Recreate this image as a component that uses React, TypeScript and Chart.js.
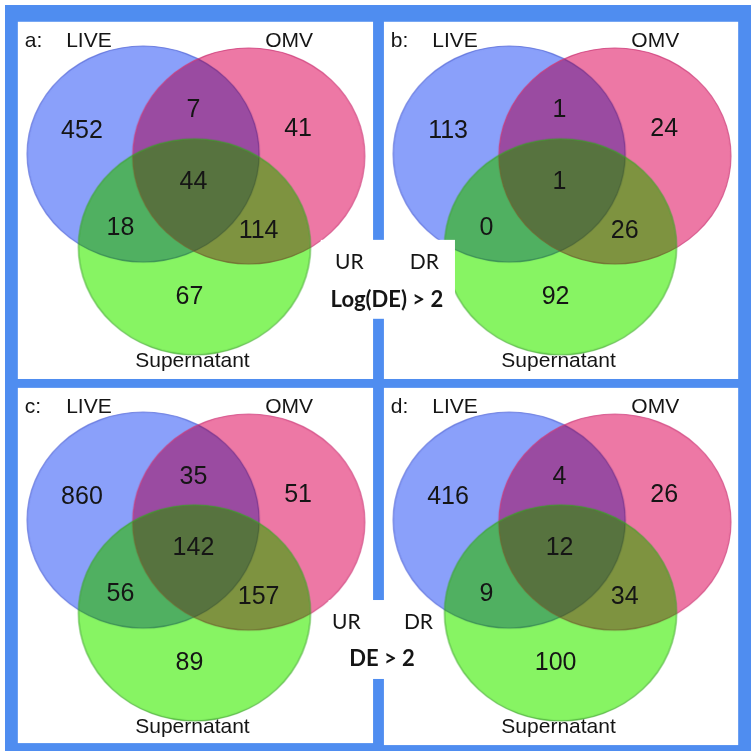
import React, { useEffect, useRef } from "react";
import { Chart, registerables } from "chart.js";
Chart.register(...registerables);

// ---- data ----
const SET_NAMES = ["LIVE", "OMV", "Supernatant"];
const PANEL_LETTERS = ["a:", "b:", "c:", "d:"];
// region order: LIVE only, LIVE∩OMV, OMV only, all three, LIVE∩Sup, OMV∩Sup, Sup only
const COUNTS_A = [452, 7, 41, 44, 18, 114, 67];
const COUNTS_B = [113, 1, 24, 1, 0, 26, 92];
const COUNTS_C = [860, 35, 51, 142, 56, 157, 89];
const COUNTS_D = [416, 4, 26, 12, 9, 34, 100];
const DIRECTIONS = ["UR", "DR"];
const THRESHOLDS = ["Log(DE) > 2", "DE > 2"];

// ---- layout ----
const W = 756;
const PANELS = [
  { x0: 13, y0: 17, x1: 373, y1: 379 },
  { x0: 384, y0: 17, x1: 743, y1: 379 },
  { x0: 13, y0: 388, x1: 373, y1: 748 },
  { x0: 384, y0: 388, x1: 743, y1: 750 },
];
const CENTERS = [
  { x: 127, y: 134 },
  { x: 234, y: 136 },
  { x: 179, y: 228 },
];
const RX = 116;
const RY = 108;
const REGION_POS = [
  [65, 111], [178, 90], [284, 109], [178, 162], [104, 209], [244, 212], [174, 279],
];
// paint layers for each set (multiply tint + translucent colour on top)
const LAYERS = [
  { set: 0, op: "source-over", fill: "rgb(138,160,250)", stroke: "rgba(80,100,215,0.8)" },
  { set: 1, op: "multiply", fill: "rgb(241,160,220)", stroke: "" },
  { set: 1, op: "source-over", fill: "rgba(228,0,0,0.25)", stroke: "rgba(205,60,120,0.8)" },
  { set: 2, op: "multiply", fill: "rgb(162,245,133)", stroke: "" },
  { set: 2, op: "source-over", fill: "rgba(54,244,0,0.25)", stroke: "rgba(60,165,40,0.75)" },
];
const FRAME = "rgb(79,141,240)";
const MID_BOXES = [
  { x0: 320, y0: 238, x1: 456, y1: 318, ur: [349, 261], dr: [425, 261], th: [387, 299] },
  { x0: 328, y0: 603, x1: 430, y1: 683, ur: [346, 626], dr: [419, 626], th: [382, 663] },
];

function ellipseImage(fill: string, stroke: string) {
  const c = document.createElement("canvas");
  c.width = RX * 2 + 4;
  c.height = RY * 2 + 4;
  const g = c.getContext("2d")!;
  g.beginPath();
  g.ellipse(c.width / 2, c.height / 2, RX, RY, 0, 0, Math.PI * 2);
  g.fillStyle = fill;
  g.fill();
  if (stroke) {
    g.lineWidth = 1.2;
    g.strokeStyle = stroke;
    g.stroke();
  }
  return c;
}

export default function App() {
  const ref = useRef<HTMLCanvasElement>(null);
  useEffect(() => {
    document.body.style.margin = "0";
    const counts = [COUNTS_A, COUNTS_B, COUNTS_C, COUNTS_D];
    const datasets = LAYERS.map((layer, li) => ({
      label: SET_NAMES[layer.set],
      order: LAYERS.length - li,
      data: PANELS.map((p) => ({ x: p.x0 + CENTERS[layer.set].x, y: p.y0 + CENTERS[layer.set].y })),
      pointStyle: ellipseImage(layer.fill, layer.stroke),
      backgroundColor: layer.fill,
      borderColor: layer.stroke || layer.fill,
    }));

    const vennPlugin = {
      id: "venn",
      beforeDraw(chart: any) {
        const { ctx, scales } = chart;
        const X = (v: number) => scales.x.getPixelForValue(v);
        const Y = (v: number) => scales.y.getPixelForValue(v);
        ctx.save();
        ctx.fillStyle = FRAME;
        ctx.fillRect(X(0), Y(0), X(W) - X(0), Y(W) - Y(0));
        ctx.fillStyle = "#fff";
        PANELS.forEach((p) => ctx.fillRect(X(p.x0), Y(p.y0), X(p.x1) - X(p.x0), Y(p.y1) - Y(p.y0)));
        ctx.restore();
      },
      beforeDatasetDraw(chart: any, args: any) {
        chart.ctx.globalCompositeOperation = LAYERS[args.index].op;
      },
      afterDatasetDraw(chart: any) {
        chart.ctx.globalCompositeOperation = "source-over";
      },
      afterDatasetsDraw(chart: any) {
        const { ctx, scales } = chart;
        const X = (v: number) => scales.x.getPixelForValue(v);
        const Y = (v: number) => scales.y.getPixelForValue(v);
        ctx.save();
        ctx.globalCompositeOperation = "source-over";
        ctx.fillStyle = "#fff";
        MID_BOXES.forEach((b) => ctx.fillRect(X(b.x0), Y(b.y0), X(b.x1) - X(b.x0), Y(b.y1) - Y(b.y0)));
        ctx.fillStyle = "#151515";
        ctx.textBaseline = "middle";
        PANELS.forEach((p, pi) => {
          ctx.font = "21px 'Liberation Sans', Arial, sans-serif";
          ctx.textAlign = "left";
          ctx.fillText(PANEL_LETTERS[pi], X(p.x0 + 7), Y(p.y0 + 20));
          ctx.fillText(SET_NAMES[0], X(p.x0 + 49), Y(p.y0 + 20));
          ctx.textAlign = "center";
          ctx.fillText(SET_NAMES[1], X(p.x0 + 275), Y(p.y0 + 20));
          ctx.textAlign = "left";
          ctx.fillText(SET_NAMES[2], X(p.x0 + 119), Y(p.y0 + 344));
          ctx.font = "25px 'Liberation Sans', Arial, sans-serif";
          ctx.textAlign = "center";
          counts[pi].forEach((v, ri) => {
            ctx.fillText(String(v), X(p.x0 + REGION_POS[ri][0]), Y(p.y0 + REGION_POS[ri][1]));
          });
        });
        MID_BOXES.forEach((b, bi) => {
          ctx.textAlign = "center";
          ctx.font = "21px Lato, 'Open Sans', sans-serif";
          ctx.fillText(DIRECTIONS[0], X(b.ur[0]), Y(b.ur[1]));
          ctx.fillText(DIRECTIONS[1], X(b.dr[0]), Y(b.dr[1]));
          ctx.font = "bold 22px Lato, 'Open Sans', sans-serif";
          ctx.fillText(THRESHOLDS[bi], X(b.th[0]), Y(b.th[1]));
        });
        ctx.restore();
      },
    };

    const chart = new Chart(ref.current!, {
      type: "scatter",
      data: { datasets },
      options: {
        animation: false,
        responsive: false,
        devicePixelRatio: 1,
        events: [],
        layout: { padding: 0 },
        plugins: { legend: { display: false }, tooltip: { enabled: false } },
        scales: {
          x: { type: "linear", min: 0, max: W, display: false },
          y: { type: "linear", min: 0, max: W, reverse: true, display: false },
        },
      },
      plugins: [vennPlugin],
    });
    return () => chart.destroy();
  }, []);
  return (
    <div style={{ width: W, height: W }}>
      <canvas ref={ref} width={W} height={W} style={{ display: "block" }} />
    </div>
  );
}
